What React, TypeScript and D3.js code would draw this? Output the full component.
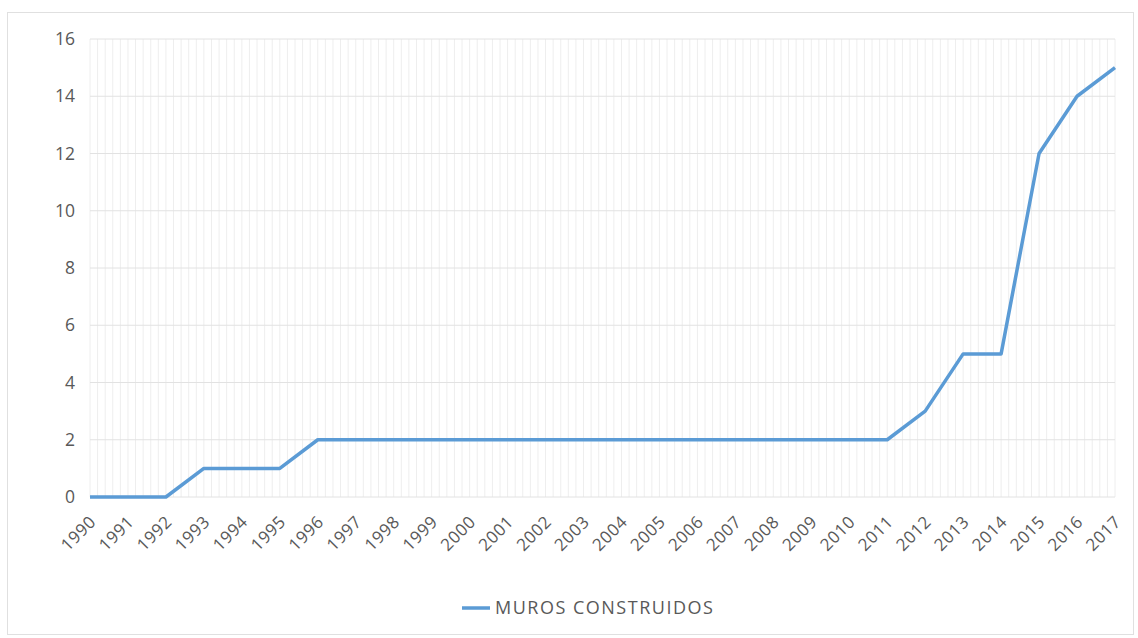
import React, { useEffect, useRef } from "react";
import * as d3 from "d3";

const years = d3.range(1990, 2018);
const muros = [0, 0, 0, 1, 1, 1, 2, 2, 2, 2, 2, 2, 2, 2, 2, 2, 2, 2, 2, 2, 2, 2, 3, 5, 5, 12, 14, 15];
const yTicks = [0, 2, 4, 6, 8, 10, 12, 14, 16];
const seriesName = "MUROS CONSTRUIDOS";

const W = 1138;
const H = 638;

export default function App() {
  const ref = useRef<SVGSVGElement>(null);

  useEffect(() => {
    const svg = d3.select(ref.current);
    svg.selectAll("*").remove();
    const margin = { top: 39, right: 23, bottom: 141, left: 90 };
    const width = W - margin.left - margin.right;
    const height = H - margin.top - margin.bottom;

    svg.append("rect")
      .attr("x", 7.5).attr("y", 12.5)
      .attr("width", W - 12).attr("height", H - 16)
      .attr("fill", "#fff").attr("stroke", "#e0e0e0");

    const x = d3.scaleLinear().domain([1990, 2017]).range([0, width]);
    const y = d3.scaleLinear().domain([0, 16]).range([height, 0]);

    const g = svg.append("g").attr("transform", `translate(${margin.left},${margin.top})`);

    // minor vertical grid, 5 per year
    const minor = d3.range(0, 27 * 5 + 1).map(i => 1990 + i / 5);
    g.selectAll(".vgrid").data(minor).join("line")
      .attr("x1", d => x(d)).attr("x2", d => x(d))
      .attr("y1", 0).attr("y2", height)
      .attr("stroke", "#eeeeee").attr("stroke-width", 1);

    g.selectAll(".hgrid").data(yTicks).join("line")
      .attr("x1", 0).attr("x2", width)
      .attr("y1", d => y(d)).attr("y2", d => y(d))
      .attr("stroke", "#e2e2e2").attr("stroke-width", 1);

    g.selectAll(".ylab").data(yTicks).join("text")
      .attr("x", -15).attr("y", d => y(d)).attr("dy", "0.35em")
      .attr("text-anchor", "end")
      .attr("font-family", "Open Sans, sans-serif").attr("font-size", 17.5)
      .attr("fill", "#595959")
      .text(d => d);

    g.selectAll(".xlab").data(years).join("text")
      .attr("text-anchor", "end")
      .attr("transform", d => `translate(${x(d) + 7},${height + 26}) rotate(-45)`)
      .attr("font-family", "Open Sans, sans-serif").attr("font-size", 17)
      .attr("letter-spacing", 0.5)
      .attr("fill", "#595959")
      .text(d => d);

    const line = d3.line<number>().x((d, i) => x(years[i])).y(d => y(d));
    g.append("path").datum(muros)
      .attr("d", line)
      .attr("fill", "none").attr("stroke", "#5b9bd5")
      .attr("stroke-width", 3.5).attr("stroke-linejoin", "round");

    const leg = svg.append("g").attr("transform", "translate(462,608)");
    leg.append("line").attr("x1", 0).attr("x2", 28).attr("y1", 0).attr("y2", 0)
      .attr("stroke", "#5b9bd5").attr("stroke-width", 3.5);
    leg.append("text").attr("x", 33).attr("y", 0).attr("dy", "0.36em")
      .attr("font-family", "Open Sans, sans-serif").attr("font-size", 18)
      .attr("letter-spacing", 1.5)
      .attr("fill", "#595959").text(seriesName);
  }, []);

  return (
    <svg ref={ref} width={W} height={H} style={{ position: "absolute", left: 0, top: 0 }} />
  );
}
